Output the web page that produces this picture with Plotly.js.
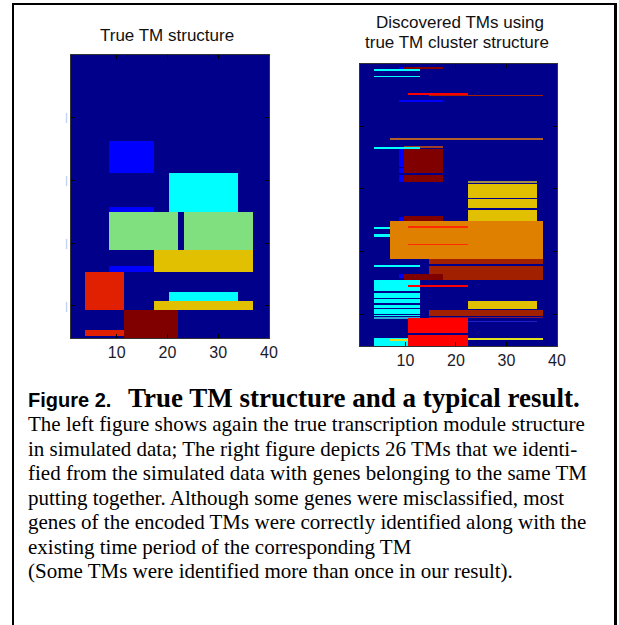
<!DOCTYPE html>
<html>
<head>
<meta charset="utf-8">
<script src="https://cdn.plot.ly/plotly-3.0.1.min.js"></script>
<style>html,body{margin:0;padding:0;background:#fff;}#chart{width:619px;height:625px;}</style>
</head>
<body>
<div id="chart"></div>
<script>
// ---- colour names used by the jet-like image ----
const colorNames = ['bg','blue','cyan','green','yellow','red','darkred','orange','brick','rust','brownLine','brightred','redline','duskyYellow','tealLine','plum','faintBlue','lemon'];
const colorValues = ['#00008A','#0000FF','#00FFFF','#80E080','#E0C000','#E02000','#800000','#E08000','#A02000','#B0602A','#A04020','#FF0000','#FF2A00','#A09048','#30A8D8','#80183A','#2020C8','#E0E020'];

// time axis (x) and gene axis (y)
const xTicks = [10, 20, 30, 40];
const yTicks = [50, 100, 150, 200];
const yTickText = ['|', '|', '|', '|'];
const xRange = [1, 40];
const yRange = [0.5, 225.5];

// left panel: true TM structure  [x0, x1, y0, y1, colour]
const leftBlocks = [
  [8.5, 17.4, 68.8, 94.5, 'blue'],
  [20.4, 33.8, 94.5, 125.7, 'cyan'],
  [8.5, 17.4, 121.5, 125.7, 'blue'],
  [8.5, 22.1, 125.7, 155.9, 'green'],
  [23.2, 36.8, 125.7, 155.9, 'green'],
  [17.4, 36.8, 155.9, 173.1, 'yellow'],
  [8.5, 17.4, 168.1, 173.1, 'blue'],
  [3.8, 11.4, 173.1, 203.0, 'red'],
  [20.4, 33.8, 189.2, 196.4, 'cyan'],
  [17.4, 36.8, 196.4, 203.0, 'yellow'],
  [11.4, 22.1, 203.0, 225.5, 'darkred'],
  [3.8, 11.4, 219.4, 224.2, 'red']
];

// right panel: discovered TMs  [x0, x1, y0, y1, colour]
const rightBlocks = [
  [9.8, 17.5, 3.1, 4.3, 'darkred'],
  [8.8, 9.8, 3.1, 5.9, 'blue'],
  [3.8, 12.8, 4.5, 5.9, 'cyan'],
  [3.8, 12.8, 9.8, 11.1, 'cyan'],
  [10.6, 22.4, 23.6, 25.2, 'brightred'],
  [14.7, 37.2, 25.0, 26.3, 'brick'],
  [8.8, 17.5, 29.2, 30.6, 'blue'],
  [6.9, 37.2, 59.5, 61.1, 'rust'],
  [9.8, 17.5, 65.7, 67.2, 'brownLine'],
  [3.8, 12.8, 66.9, 68.3, 'cyan'],
  [8.8, 9.8, 68.3, 82.4, 'blue'],
  [8.8, 9.8, 83.7, 87.7, 'blue'],
  [8.8, 9.8, 89.1, 94.4, 'blue'],
  [9.8, 17.5, 68.3, 87.7, 'darkred'],
  [9.8, 17.5, 89.1, 94.4, 'darkred'],
  [22.4, 36.1, 93.9, 95.2, 'duskyYellow'],
  [22.4, 36.1, 96.2, 107.4, 'yellow'],
  [22.4, 36.1, 108.5, 115.6, 'yellow'],
  [22.4, 36.1, 117.2, 125.8, 'yellow'],
  [8.8, 9.8, 122.3, 125.8, 'blue'],
  [9.8, 17.5, 121.5, 125.8, 'darkred'],
  [6.9, 37.2, 125.8, 155.8, 'orange'],
  [10.6, 22.4, 130.0, 131.2, 'redline'],
  [10.6, 22.4, 144.0, 145.2, 'redline'],
  [3.8, 6.9, 130.5, 131.9, 'cyan'],
  [3.8, 6.9, 136.4, 138.3, 'cyan'],
  [14.7, 37.2, 155.8, 160.1, 'brick'],
  [14.7, 37.2, 161.3, 173.0, 'brick'],
  [3.8, 12.8, 161.0, 162.5, 'cyan'],
  [8.8, 9.8, 168.1, 171.3, 'blue'],
  [9.8, 17.5, 168.1, 172.8, 'darkred'],
  [3.8, 12.8, 173.1, 181.6, 'cyan'],
  [3.8, 12.8, 183.0, 187.0, 'cyan'],
  [3.8, 12.8, 188.2, 191.4, 'cyan'],
  [3.8, 12.8, 192.6, 195.0, 'cyan'],
  [3.8, 12.8, 196.2, 199.7, 'cyan'],
  [3.8, 12.8, 200.4, 201.5, 'cyan'],
  [3.8, 12.8, 202.1, 203.7, 'tealLine'],
  [10.6, 22.4, 177.2, 178.5, 'brightred'],
  [22.4, 36.1, 189.6, 196.2, 'yellow'],
  [14.7, 37.2, 197.0, 201.3, 'brick'],
  [14.7, 37.2, 202.0, 203.4, 'plum'],
  [10.6, 22.4, 203.4, 214.9, 'brightred'],
  [10.6, 22.4, 216.7, 225.5, 'brightred'],
  [22.4, 36.1, 205.3, 206.6, 'faintBlue'],
  [3.8, 10.6, 219.4, 225.5, 'cyan'],
  [6.9, 10.6, 219.9, 221.3, 'lemon'],
  [22.4, 37.2, 219.4, 221.0, 'lemon']
];

// caption texts
const leftTitle = 'True TM structure';
const rightTitle = ['Discovered TMs using', 'true TM cluster structure'];
const figLabel = 'Figure 2.';
const figTitle = 'True TM structure and a typical result.';
const captionLines = [
  'The left figure shows again the true transcription module structure',
  'in simulated data; The right figure depicts 26 TMs that we identi-',
  'fied from the simulated data with genes belonging to the same TM',
  'putting together. Although some genes were misclassified, most',
  'genes of the encoded TMs were correctly identified along with the',
  'existing time period of the corresponding TM',
  '(Some TMs were identified more than once in our result).'
];

// ---- build brick grids from the blocks ----
function buildGrid(blocks) {
  const all = [[xRange[0], xRange[1], yRange[0], yRange[1], 'bg']].concat(blocks);
  const xs = [...new Set(all.flatMap(b => [b[0], b[1]]))].sort((a, b) => a - b);
  const ys = [...new Set(all.flatMap(b => [b[2], b[3]]))].sort((a, b) => a - b);
  const z = [];
  for (let i = 0; i < ys.length - 1; i++) {
    const cy = (ys[i] + ys[i + 1]) / 2;
    const row = [];
    for (let j = 0; j < xs.length - 1; j++) {
      const cx = (xs[j] + xs[j + 1]) / 2;
      let v = 0;
      for (const b of all) {
        if (cx > b[0] && cx < b[1] && cy > b[2] && cy < b[3]) v = colorNames.indexOf(b[4]);
      }
      row.push(v);
    }
    z.push(row);
  }
  return {xs, ys, z};
}

const n = colorNames.length;
const colorscale = [];
colorValues.forEach((c, i) => { colorscale.push([i / n, c]); colorscale.push([(i + 1) / n, c]); });

function heat(blocks, xa, ya) {
  const g = buildGrid(blocks);
  return {type: 'heatmap', x: g.xs, y: g.ys, z: g.z, xaxis: xa, yaxis: ya,
    colorscale: colorscale, zmin: -0.5, zmax: n - 0.5, showscale: false,
    zsmooth: false, hoverinfo: 'skip'};
}

const W = 619, H = 625;
const px = v => v / W, py = v => 1 - v / H;

const axBase = {showgrid: false, zeroline: false, showline: true, linecolor: '#333', linewidth: 1,
  mirror: 'ticks', ticks: 'inside', ticklen: 4, tickcolor: '#000', tickwidth: 1};
const tickFont = {family: 'Liberation Sans, Arial', size: 16, color: '#1a1a2a'};

const layout = {
  width: W, height: H, margin: {l: 0, r: 0, t: 0, b: 0},
  paper_bgcolor: '#fff', plot_bgcolor: '#fff', showlegend: false,
  xaxis: Object.assign({}, axBase, {domain: [px(71), px(269)], range: xRange, tickvals: xTicks,
    tickfont: tickFont, anchor: 'y'}),
  yaxis: Object.assign({}, axBase, {domain: [py(338), py(55)], range: [yRange[1], yRange[0]],
    tickvals: yTicks, ticktext: yTickText, tickfont: {family: 'Liberation Sans, Arial', size: 11, color: '#a8c8f0'}, anchor: 'x'}),
  xaxis2: Object.assign({}, axBase, {domain: [px(360), px(557)], range: xRange, tickvals: xTicks,
    tickfont: tickFont, anchor: 'y2'}),
  yaxis2: Object.assign({}, axBase, {domain: [py(346), py(64)], range: [yRange[1], yRange[0]],
    tickvals: yTicks, showticklabels: false, anchor: 'x2'}),
  shapes: [
    {type: 'line', xref: 'paper', yref: 'paper', x0: px(13), x1: px(13), y0: 0, y1: py(3), line: {color: '#000', width: 2}},
    {type: 'line', xref: 'paper', yref: 'paper', x0: px(12), x1: px(616), y0: py(4), y1: py(4), line: {color: '#000', width: 2}},
    {type: 'line', xref: 'paper', yref: 'paper', x0: px(615.5), x1: px(615.5), y0: 0, y1: py(3), line: {color: '#000', width: 3}}
  ],
  annotations: []
};

const sans = 'Liberation Sans, Arial, sans-serif';
const serif = 'Liberation Serif, Times New Roman, serif';
function ann(text, x, y, font, xanchor) {
  layout.annotations.push({text: text, xref: 'paper', yref: 'paper', x: px(x), y: py(y),
    xanchor: xanchor || 'center', yanchor: 'middle', showarrow: false, font: font, borderpad: 0});
}
ann(leftTitle, 167, 36, {family: sans, size: 17, color: '#111'});
ann(rightTitle[0], 460, 23, {family: sans, size: 17, color: '#111'});
ann(rightTitle[1], 457, 43, {family: sans, size: 17, color: '#111'});
ann('<b>' + figLabel + '</b>', 27, 400, {family: sans, size: 20, color: '#000'}, 'left');
ann('<b>' + figTitle + '</b>', 127, 398, {family: serif, size: 27, color: '#000'}, 'left');
const lineY = [424, 448.5, 473, 497.5, 522, 546.5, 571];
captionLines.forEach((t, i) => ann(t, 27, lineY[i], {family: serif, size: 21, color: '#000'}, 'left'));

Plotly.newPlot('chart', [heat(leftBlocks, 'x', 'y'), heat(rightBlocks, 'x2', 'y2')], layout, {staticPlot: true});
</script>
</body>
</html>
